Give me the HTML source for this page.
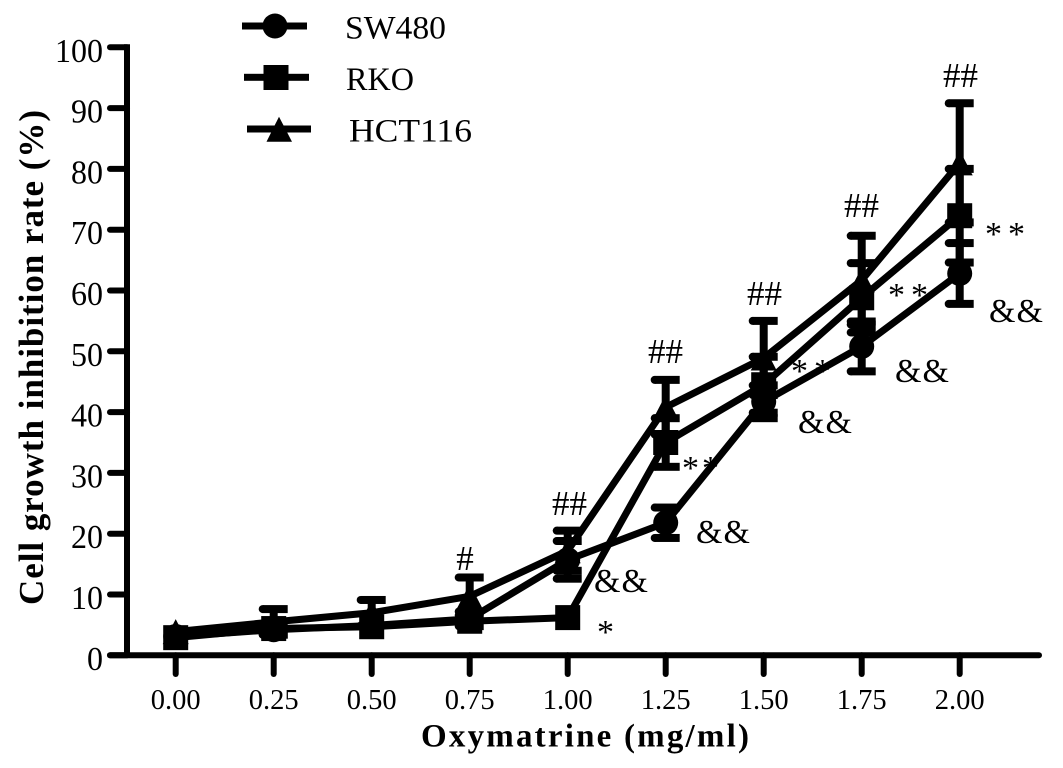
<!DOCTYPE html>
<html lang="en">
<head>
<meta charset="utf-8">
<title>Cell growth inhibition rate</title>
<style>
html,body{margin:0;padding:0;background:#fff;}
svg{display:block;}
text{font-family:"Liberation Serif",serif;fill:#000;}
</style>
</head>
<body>
<svg id="chart" xmlns="http://www.w3.org/2000/svg" width="1063" height="768" viewBox="0 0 1063 768">
<rect width="1063" height="768" fill="#fff"/>
<text transform="translate(43,605) rotate(-90)" font-size="35" font-weight="bold" textLength="495" lengthAdjust="spacing">Cell growth inhibition rate (%)</text>
<text x="421" y="746.7" font-size="33" font-weight="bold" textLength="328" lengthAdjust="spacing">Oxymatrine (mg/ml)</text>

<g>
<g>
<rect x="242" y="22.5" width="65" height="7" fill="#000"/>
<circle cx="275" cy="26" r="12.5" fill="#000"/>
<text x="345" y="38.3" font-size="33" textLength="101" lengthAdjust="spacingAndGlyphs">SW480</text>
</g>
<g>
<rect x="244" y="73.8" width="65" height="7" fill="#000"/>
<rect x="263.5" y="65" width="25" height="25" fill="#000"/>
<text x="346" y="90" font-size="33" textLength="68" lengthAdjust="spacingAndGlyphs">RKO</text>
</g>
<g>
<rect x="247" y="125.5" width="64" height="7" fill="#000"/>
<polygon points="279,116.7 292,141.7 266.5,141.7" fill="#000"/>
<text x="349" y="141.7" font-size="33" textLength="123" lengthAdjust="spacingAndGlyphs">HCT116</text>
</g>
</g>

<g>
<text x="465" y="570" font-size="35" text-anchor="middle">#</text>
<text x="552" y="515" font-size="35" textLength="35" lengthAdjust="spacing">##</text>
<text x="648" y="363" font-size="35" textLength="35" lengthAdjust="spacing">##</text>
<text x="747" y="305" font-size="35" textLength="35" lengthAdjust="spacing">##</text>
<text x="844" y="217" font-size="35" textLength="35" lengthAdjust="spacing">##</text>
<text x="943" y="87" font-size="35" textLength="35" lengthAdjust="spacing">##</text>
<text x="597" y="643" font-size="34">*</text>
<text x="682" y="479" font-size="34" textLength="37" lengthAdjust="spacing">**</text>
<text x="791" y="382" font-size="34" textLength="40" lengthAdjust="spacing">**</text>
<text x="888" y="306" font-size="34" textLength="40" lengthAdjust="spacing">**</text>
<text x="985" y="245" font-size="34" textLength="40" lengthAdjust="spacing">**</text>
<text x="594" y="592" font-size="34" textLength="54" lengthAdjust="spacing">&amp;&amp;</text>
<text x="696" y="543" font-size="34" textLength="54" lengthAdjust="spacing">&amp;&amp;</text>
<text x="798" y="433" font-size="34" textLength="54" lengthAdjust="spacing">&amp;&amp;</text>
<text x="895" y="382" font-size="34" textLength="54" lengthAdjust="spacing">&amp;&amp;</text>
<text x="989" y="322" font-size="34" textLength="54" lengthAdjust="spacing">&amp;&amp;</text>
</g>
</svg>

<script>
var concentrations = [0, 0.25, 0.5, 0.75, 1, 1.25, 1.5, 1.75, 2];
var xTickLabels = ["0.00", "0.25", "0.50", "0.75", "1.00", "1.25", "1.50", "1.75", "2.00"];
var yTickValues = [0, 10, 20, 30, 40, 50, 60, 70, 80, 90, 100];

var sw480Means = [3.1, 4.2, 4.9, 6.0, 15.7, 21.8, 41.7, 50.8, 62.8];
var sw480Errors = [0, 0.8, 0, 1.2, 3.1, 2.5, 2.7, 4.1, 5.0];
var rkoMeans = [2.9, 4.4, 4.7, 5.6, 6.2, 35.0, 44.5, 58.8, 72.3];
var rkoErrors = [0, 0, 0, 0, 0, 4.0, 4.6, 5.7, 7.7];
var hct116Means = [3.9, 5.5, 7.0, 9.7, 17.2, 40.8, 48.9, 61.7, 81.0];
var hct116Errors = [0, 2.1, 2.1, 3.1, 3.3, 4.5, 6.1, 7.3, 9.8];

var SVG_NS = "http://www.w3.org/2000/svg";
var svg = document.getElementById("chart");

function xScale(v) { return 175.7 + (v / 0.25) * 98; }
function yScale(v) { return 655.3 - v * 6.08; }

function make(tag, attrs, parent) {
  var el = document.createElementNS(SVG_NS, tag);
  for (var k in attrs) { el.setAttribute(k, attrs[k]); }
  parent.appendChild(el);
  return el;
}

var axisGroup = make("g", {}, svg);



var xAxisLine = make("line", {x1: 110, y1: 655.3, x2: 1039, y2: 655.3, stroke: "#000", "stroke-width": 6, "stroke-linecap": "round"}, axisGroup);



var yAxisLine = make("line", {x1: 127, y1: yScale(100) - 3, x2: 127, y2: 655.3, stroke: "#000", "stroke-width": 6}, axisGroup);



yTickValues.forEach(function (v) {
  var y = yScale(v);
  var tick = make("line", {x1: 110, y1: y, x2: 127, y2: y, stroke: "#000", "stroke-width": 6, "stroke-linecap": "round"}, axisGroup);
  
  
  var label = make("text", {transform: "translate(103," + (y + 14.5) + ") scale(1,1.06)", "font-size": 32, "text-anchor": "end"}, axisGroup);
  label.textContent = String(v);
  
  
});

concentrations.forEach(function (c, i) {
  var x = xScale(c);
  var tick = make("line", {x1: x, y1: 655.3, x2: x, y2: 674, stroke: "#000", "stroke-width": 6, "stroke-linecap": "round"}, axisGroup);
  
  
  var label = make("text", {x: x, y: 709, "font-size": 28.5, "text-anchor": "middle"}, axisGroup);
  label.textContent = xTickLabels[i];
  
  
});

function drawCap(parent, x, y) {
  var r = make("rect", {x: x - 11, y: y - 4, width: 25, height: 8, fill: "#000"}, parent);
  
  
  var c = make("circle", {cx: x - 11, cy: y, r: 4, fill: "#000"}, parent);
  
  
}

function drawMarker(parent, kind, x, y) {
  var m;
  if (kind === "circle") {
    m = make("circle", {cx: x, cy: y, r: 12.5, fill: "#000"}, parent);
  } else if (kind === "square") {
    m = make("rect", {x: x - 12.5, y: y - 12.5, width: 25, height: 25, fill: "#000"}, parent);
  } else {
    m = make("polygon", {points: x + "," + (y - 12.5) + " " + (x + 13) + "," + (y + 12.5) + " " + (x - 13) + "," + (y + 12.5), fill: "#000"}, parent);
  }
  
  
}

function drawSeries(name, means, errors, kind) {
  var g = make("g", {}, svg);
  
  
  var pts = means.map(function (m, i) { return xScale(concentrations[i]) + "," + yScale(m); }).join(" ");
  var line = make("polyline", {points: pts, fill: "none", stroke: "#000", "stroke-width": 7, "stroke-linejoin": "round"}, g);
  
  
  means.forEach(function (m, i) {
    var x = xScale(concentrations[i]);
    if (errors[i] > 0) {
      var hi = yScale(m + errors[i]);
      var lo = yScale(m - errors[i]);
      var stem = make("line", {x1: x, y1: hi, x2: x, y2: lo, stroke: "#000", "stroke-width": 8}, g);
      
      
      drawCap(g, x, hi);
      drawCap(g, x, lo);
    }
    drawMarker(g, kind, x, yScale(m));
  });
}

drawSeries("sw480", sw480Means, sw480Errors, "circle");
drawSeries("rko", rkoMeans, rkoErrors, "square");
drawSeries("hct116", hct116Means, hct116Errors, "triangle");
</script>
</body>
</html>
